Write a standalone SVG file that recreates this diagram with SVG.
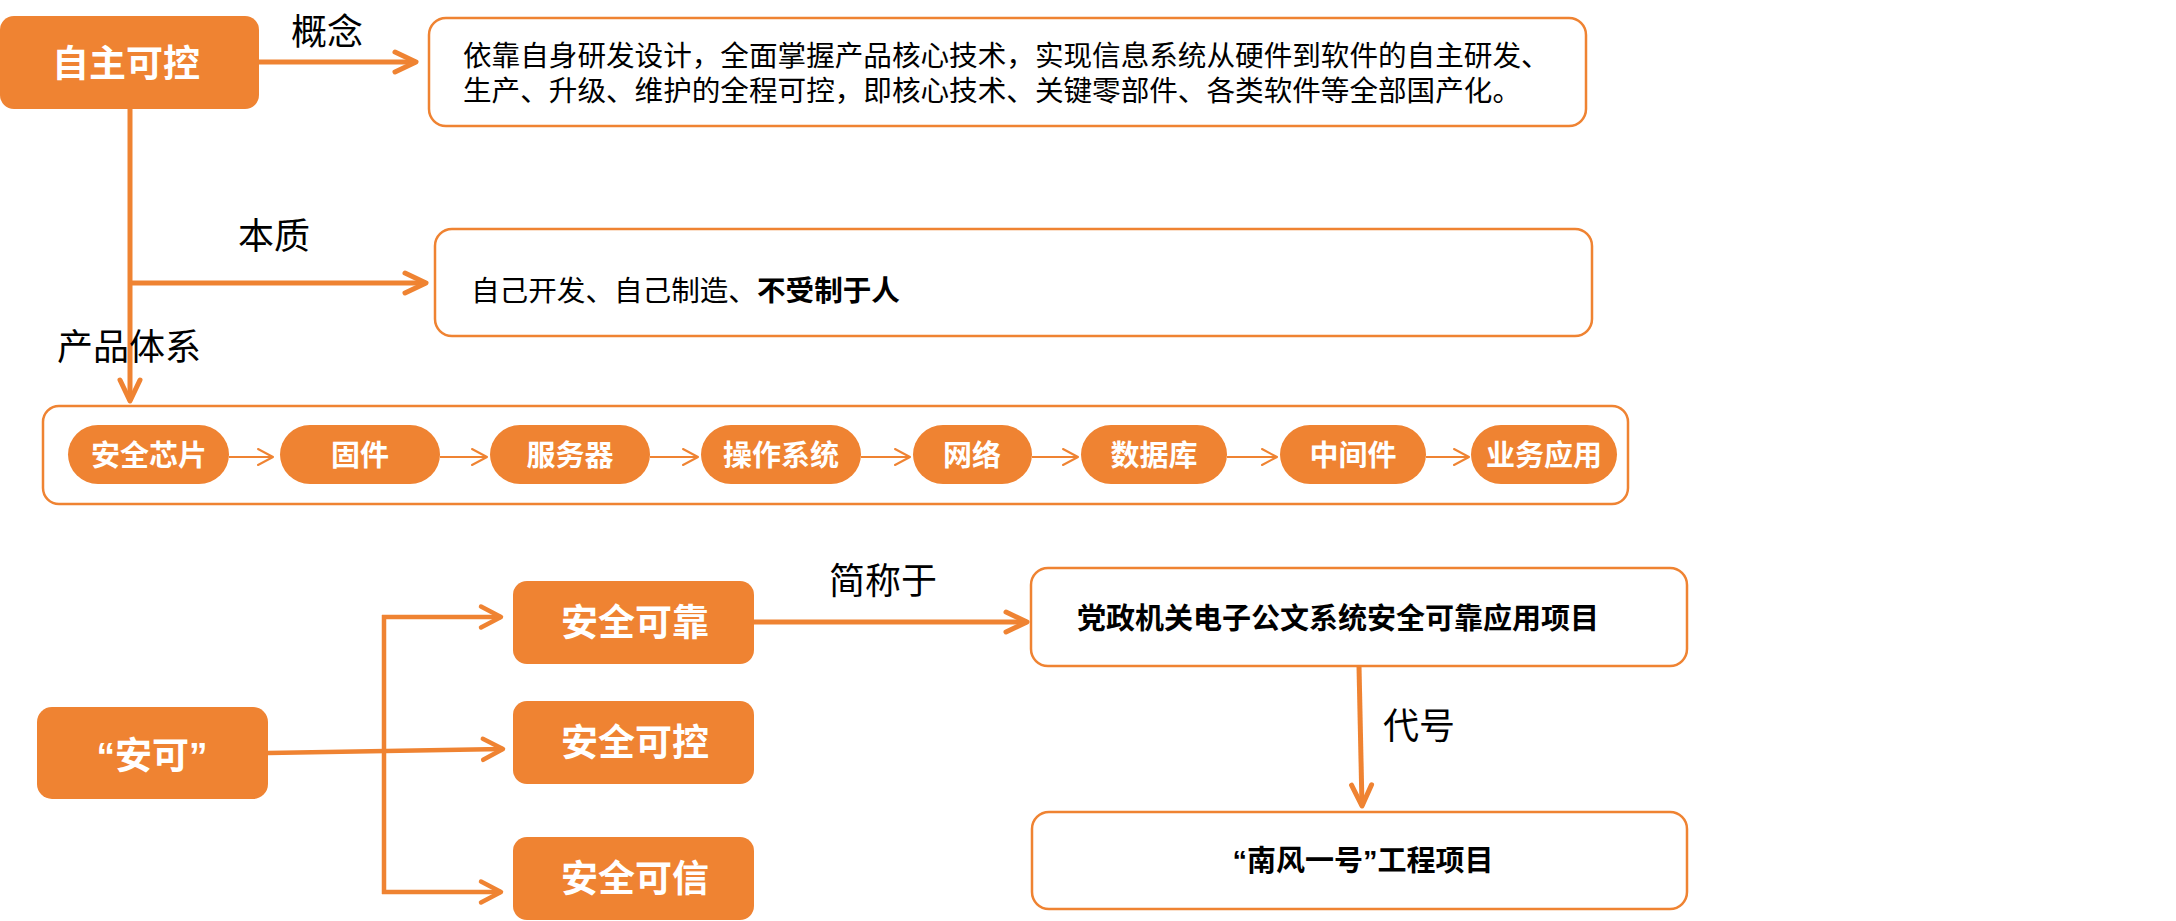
<svg xmlns="http://www.w3.org/2000/svg" width="2176" height="921" viewBox="0 0 2176 921">
<style>
.fill{fill:#EF8332;}
.box{fill:#fff;stroke:#EF8332;stroke-width:2.5;}
.wt{fill:#fff;font-family:"Noto Sans CJK SC","Noto Sans",sans-serif;font-weight:bold;text-anchor:middle;}
.lbl{fill:#000;font-family:"Noto Sans CJK SC","Noto Sans",sans-serif;font-size:36px;text-anchor:middle;}
.bt{fill:#000;font-family:"Noto Sans CJK SC","Noto Sans",sans-serif;font-size:28.6px;}
.bb{fill:#000;font-family:"Noto Sans CJK SC","Noto Sans",sans-serif;font-size:29px;font-weight:bold;}
.q{font-family:"Liberation Sans",Arial,sans-serif;}
.c5{fill:none;stroke:#EF8332;stroke-width:5;}
.c4{fill:none;stroke:#EF8332;stroke-width:4.5;}
.c2{fill:none;stroke:#EF8332;stroke-width:2;}
</style>
<defs>
<marker id="aL" markerUnits="userSpaceOnUse" markerWidth="30" markerHeight="30" refX="0" refY="0" orient="auto" overflow="visible">
<path d="M -21 -10 L 0 0 L -21 10" fill="none" stroke="#EF8332" stroke-width="5" stroke-linecap="round" stroke-linejoin="round"/>
</marker>
<marker id="aM" markerUnits="userSpaceOnUse" markerWidth="30" markerHeight="30" refX="0" refY="0" orient="auto" overflow="visible">
<path d="M -20 -10.5 L 0 0 L -20 10.5" fill="none" stroke="#EF8332" stroke-width="4.5" stroke-linecap="round" stroke-linejoin="round"/>
</marker>
<marker id="aS" markerUnits="userSpaceOnUse" markerWidth="20" markerHeight="20" refX="0" refY="0" orient="auto" overflow="visible">
<path d="M -15 -8 L 0 0 L -15 8" fill="none" stroke="#EF8332" stroke-width="2" stroke-linecap="round" stroke-linejoin="round"/>
</marker>
</defs>

<g id="n-products">
<rect class="box" x="43" y="406" width="1585" height="98" rx="16"/>
</g>

<g id="connectors">
<path class="c5" d="M 259 62 L 416 62" marker-end="url(#aL)"/>
<path class="c5" d="M 130 109 L 130 401" marker-end="url(#aL)"/>
<path class="c5" d="M 130 283 L 426 283" marker-end="url(#aL)"/>
<path class="c2" d="M 229 457 L 273 457" marker-end="url(#aS)"/>
<path class="c2" d="M 440 457 L 487 457" marker-end="url(#aS)"/>
<path class="c2" d="M 650 457 L 698 457" marker-end="url(#aS)"/>
<path class="c2" d="M 861 457 L 910 457" marker-end="url(#aS)"/>
<path class="c2" d="M 1032 457 L 1078 457" marker-end="url(#aS)"/>
<path class="c2" d="M 1227 457 L 1277 457" marker-end="url(#aS)"/>
<path class="c2" d="M 1426 457 L 1469 457" marker-end="url(#aS)"/>
<path class="c4" d="M 384 615 L 384 894"/>
<path class="c4" d="M 382 617 L 501 617" marker-end="url(#aM)"/>
<path class="c4" d="M 382 892 L 501 892" marker-end="url(#aM)"/>
<path class="c4" d="M 268 753 L 503 749" marker-end="url(#aM)"/>
<path class="c5" d="M 754 622 L 1027 622" marker-end="url(#aL)"/>
<path class="c5" d="M 1359 666 L 1362 806" marker-end="url(#aL)"/>
<text class="lbl" x="327" y="45">概念</text>
<text class="lbl" x="274" y="249">本质</text>
<text class="lbl" x="129" y="360">产品体系</text>
<text class="lbl" x="883" y="594">简称于</text>
<text class="lbl" x="1419" y="739">代号</text>
</g>

<g id="n-zizhu">
<rect class="fill" x="0" y="16" width="259" height="93" rx="14"/>
<text class="wt" x="126" y="77" font-size="37">自主可控</text>
</g>

<g id="n-concept">
<rect class="box" x="429" y="18" width="1157" height="108" rx="17"/>
<text class="bt" x="463" y="66">依靠自身研发设计，全面掌握产品核心技术，实现信息系统从硬件到软件的自主研发、<tspan x="463" y="101">生产、升级、维护的全程可控，即核心技术、关键零部件、各类软件等全部国产化。</tspan></text>
</g>

<g id="n-essence">
<rect class="box" x="435" y="229" width="1157" height="107" rx="17"/>
<text class="bt" x="471" y="301" font-size="29">自己开发、自己制造、<tspan font-weight="bold">不受制于人</tspan></text>
</g>

<g id="p1"><rect class="fill" x="68" y="425" width="161" height="59" rx="30"/><text class="wt" x="149" y="466" font-size="29">安全芯片</text></g>
<g id="p2"><rect class="fill" x="280" y="425" width="160" height="59" rx="30"/><text class="wt" x="360" y="466" font-size="29">固件</text></g>
<g id="p3"><rect class="fill" x="490" y="425" width="160" height="59" rx="30"/><text class="wt" x="570" y="466" font-size="29">服务器</text></g>
<g id="p4"><rect class="fill" x="701" y="425" width="160" height="59" rx="30"/><text class="wt" x="781" y="466" font-size="29">操作系统</text></g>
<g id="p5"><rect class="fill" x="913" y="425" width="119" height="59" rx="30"/><text class="wt" x="972" y="466" font-size="29">网络</text></g>
<g id="p6"><rect class="fill" x="1081" y="425" width="146" height="59" rx="30"/><text class="wt" x="1154" y="466" font-size="29">数据库</text></g>
<g id="p7"><rect class="fill" x="1280" y="425" width="146" height="59" rx="30"/><text class="wt" x="1353" y="466" font-size="29">中间件</text></g>
<g id="p8"><rect class="fill" x="1471" y="425" width="146" height="59" rx="30"/><text class="wt" x="1544" y="466" font-size="29">业务应用</text></g>

<g id="n-anke">
<rect class="fill" x="37" y="707" width="231" height="92" rx="15"/>
<text class="wt" x="152" y="769" font-size="37"><tspan class="q">“</tspan>安可<tspan class="q">”</tspan></text>
</g>
<g id="n-kekao">
<rect class="fill" x="513" y="581" width="241" height="83" rx="14"/>
<text class="wt" x="635" y="636" font-size="37">安全可靠</text>
</g>
<g id="n-kekong">
<rect class="fill" x="513" y="701" width="241" height="83" rx="14"/>
<text class="wt" x="635" y="756" font-size="37">安全可控</text>
</g>
<g id="n-kexin">
<rect class="fill" x="513" y="837" width="241" height="83" rx="14"/>
<text class="wt" x="635" y="892" font-size="37">安全可信</text>
</g>

<g id="n-dangzheng">
<rect class="box" x="1031" y="568" width="656" height="98" rx="17"/>
<text class="bb" x="1077" y="629">党政机关电子公文系统安全可靠应用项目</text>
</g>
<g id="n-nanfeng">
<rect class="box" x="1032" y="812" width="655" height="97" rx="17"/>
<text class="bb" x="1363" y="871" text-anchor="middle"><tspan class="q">“</tspan>南风一号<tspan class="q">”</tspan>工程项目</text>
</g>
</svg>
